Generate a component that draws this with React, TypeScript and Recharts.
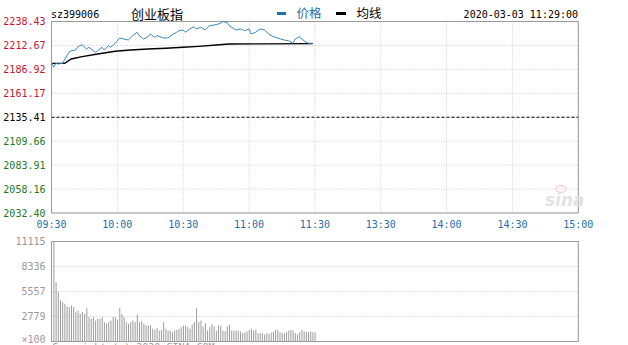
import { LineChart, Line, BarChart, Bar, XAxis, YAxis, CartesianGrid, ReferenceLine } from 'recharts';

const TIME_TICKS = [0, 30, 60, 90, 120, 150, 180, 210, 240];
const TIME_LABELS = ['09:30', '10:00', '10:30', '11:00', '11:30', '13:30', '14:00', '14:30', '15:00'];
const PRICE_TICKS = [2032.40, 2058.16, 2083.91, 2109.66, 2135.41, 2161.17, 2186.92, 2212.67, 2238.43];
const PCT_TICKS = [-4.82, -3.62, -2.41, -1.21, 0, 1.21, 2.41, 3.62, 4.82];
const PREV_CLOSE = 2135.41;
const VOL_TICKS = [0, 2779, 5557, 8336, 11115];

// minutes after 09:30
const priceMinutes = [0, 1, 2, 3, 5, 7, 8, 9, 11, 12, 14, 15, 16, 17, 20, 21, 23, 24, 26, 27, 29, 31, 33, 35, 37, 39, 40, 42, 44, 45, 47, 48, 51, 53, 55, 57, 58, 60, 61, 63, 65, 66, 68, 70, 72, 75, 77, 78, 80, 81, 84, 86, 88, 90, 91, 93, 95, 97, 99, 101, 103, 106, 108, 110, 111, 113, 114, 116, 117, 119];
const priceValues = [2194.5, 2189.2, 2193.4, 2192.7, 2193.4, 2201.6, 2205.3, 2207.0, 2207.8, 2211.3, 2213.5, 2210.7, 2208.8, 2210.7, 2205.3, 2207.0, 2210.7, 2207.8, 2212.4, 2210.7, 2215.0, 2220.7, 2219.6, 2218.5, 2223.2, 2226.8, 2223.2, 2219.6, 2222.1, 2225.0, 2221.4, 2223.2, 2220.7, 2220.7, 2224.2, 2226.8, 2228.5, 2229.3, 2226.8, 2230.4, 2232.8, 2230.4, 2232.2, 2229.3, 2233.9, 2235.0, 2236.5, 2238.2, 2237.5, 2233.9, 2229.3, 2230.4, 2228.5, 2230.4, 2225.0, 2226.8, 2230.4, 2229.3, 2225.0, 2222.1, 2220.7, 2218.5, 2217.8, 2215.0, 2219.6, 2222.1, 2219.6, 2216.1, 2215.0, 2215.0];
const avgMinutes = [0, 6, 9, 14, 21, 29, 36, 44, 52, 60, 67, 75, 81, 95, 119];
const avgValues = [2193.4, 2193.4, 2198.1, 2200.6, 2203.4, 2206.4, 2207.8, 2208.8, 2209.6, 2210.7, 2211.7, 2213.1, 2214.2, 2214.4, 2214.6];

// volume per minute, x100
const volumes = [
  11100, 6590, 5480, 4560, 4370, 4190, 3890, 3820, 4000, 3820,
  3260, 3450, 3080, 3260, 3080, 3700, 2700, 2520, 2700, 2330,
  2520, 2520, 2700, 2150, 2040, 2150, 2330, 2700, 2700, 2440,
  3740, 3080, 2700, 2150, 1960, 2150, 2330, 2150, 3000, 2150,
  2260, 1960, 1780, 1780, 1780, 1410, 1300, 1520, 1220, 1300,
  2150, 1410, 1220, 1220, 1040, 1220, 1300, 1410, 1590, 1780,
  1780, 1590, 1410, 1890, 2150, 3700, 2150, 2330, 1670, 2040,
  1220, 1590, 1890, 1670, 1220, 1780, 1780, 1220, 1150, 1670,
  1850, 1220, 1220, 1220, 1220, 1110, 930, 1000, 1110, 1300,
  1410, 1220, 1300, 930, 930, 930, 780, 930, 850, 1000,
  1040, 1300, 1300, 1040, 930, 930, 1040, 1220, 1300, 1220,
  930, 780, 1040, 1300, 1110, 1110, 1040, 1110, 1040, 1000,
];

const priceData = priceMinutes.map((t, i) => ({ t, price: priceValues[i] }));
const avgData = avgMinutes.map((t, i) => ({ t, avg: avgValues[i] }));
const volData = volumes.map((v, i) => ({ t: i, vol: v }));

const RED = '#c8142c';
const GREEN = '#267a26';
const BLUE = '#1d70ac';
const BORDER = '#9a9a9a';
const GRID = '#c4c4c4';
const MONO = '"DejaVu Sans Mono", monospace';
const CJK = '"Noto Sans CJK SC", sans-serif';

const signColor = (d: number) => (d > 0 ? RED : d < 0 ? GREEN : '#000');

const PriceTick = (p: any) => {
  const v = p.payload.value;
  return (
    <text x={p.x} y={p.y} dy="0.35em" textAnchor="end" fontSize={10} fontFamily={MONO} fill={signColor(v - PREV_CLOSE)}>
      {v.toFixed(2)}
    </text>
  );
};

const PctTick = (p: any) => {
  const v = p.payload.value;
  const s = v > 0 ? `+${v.toFixed(2)}%` : `${v.toFixed(2)}%`;
  return (
    <text x={p.x + 41} y={p.y} dy="0.35em" textAnchor="end" fontSize={10} fontFamily={MONO} fill={signColor(v)}>
      {s}
    </text>
  );
};

const TimeTick = (p: any) => (
  <text x={p.x} y={p.y} dy="0.71em" textAnchor="middle" fontSize={10} fontFamily={MONO} fill={BLUE}>
    {TIME_LABELS[TIME_TICKS.indexOf(p.payload.value)]}
  </text>
);

const VolTick = (p: any) => {
  const v = p.payload.value;
  return (
    <text x={p.x} y={p.y} dy={v === 0 ? '0.1em' : '0.35em'} textAnchor="end" fontSize={10} fontFamily={MONO} fill="#999">
      {v === 0 ? '×100' : v}
    </text>
  );
};

const VolBar = (p: any) =>
  p.height > 0 ? <rect x={p.x + 2} y={p.y} width={1} height={p.height} fill="#9c9c9c" /> : <g />;

export default function App() {
  return (
    <div style={{ position: 'absolute', left: 0, top: 0, width: 628, height: 345, overflow: 'hidden', background: '#fff' }}>
      <div style={{ position: 'absolute', left: 0, top: 0 }}>
        <LineChart width={628} height={235} margin={{ top: 21.5, right: 0, bottom: 0, left: 0 }}>
          <CartesianGrid stroke={GRID} strokeDasharray="1 2" />
          <XAxis
            dataKey="t"
            type="number"
            domain={[0, 240]}
            ticks={TIME_TICKS}
            height={22}
            tickSize={0}
            tickMargin={8}
            tick={<TimeTick />}
            axisLine={{ stroke: BORDER }}
            tickLine={false}
          />
          <YAxis
            domain={[PRICE_TICKS[0], PRICE_TICKS[8]]}
            ticks={PRICE_TICKS}
            width={51.5}
            tickSize={0}
            tickMargin={6}
            tick={<PriceTick />}
            axisLine={{ stroke: BORDER }}
            tickLine={false}
            interval={0}
          />
          <YAxis
            yAxisId="pct"
            orientation="right"
            domain={[-4.82, 4.82]}
            ticks={PCT_TICKS}
            width={49.7}
            tickSize={0}
            tickMargin={0}
            tick={<PctTick />}
            axisLine={{ stroke: BORDER }}
            tickLine={false}
            interval={0}
          />
          <ReferenceLine y={PREV_CLOSE} stroke="#000" strokeDasharray="3 2" />
          <ReferenceLine y={PRICE_TICKS[8]} stroke={BORDER} />
          <Line data={avgData} dataKey="avg" stroke="#000" strokeWidth={1.4} dot={false} isAnimationActive={false} />
          <Line data={priceData} dataKey="price" stroke="#3a87b8" strokeWidth={1} dot={false} isAnimationActive={false} />
        </LineChart>
      </div>

      <div style={{ position: 'absolute', left: 0, top: 230 }}>
        <BarChart width={628} height={115} data={volData} margin={{ top: 11.5, right: 49.7, bottom: 0, left: 0 }}>
          <CartesianGrid stroke={GRID} strokeDasharray="1 2" />
          <XAxis
            dataKey="t"
            type="number"
            domain={[0, 240]}
            ticks={TIME_TICKS}
            height={3.5}
            tick={false}
            tickLine={false}
            axisLine={{ stroke: BORDER }}
          />
          <YAxis
            domain={[0, 11115]}
            ticks={VOL_TICKS}
            width={51.5}
            tickSize={0}
            tickMargin={6}
            tick={<VolTick />}
            axisLine={{ stroke: BORDER }}
            tickLine={false}
            interval={0}
          />
          <ReferenceLine y={11115} stroke={BORDER} />
          <ReferenceLine x={240} stroke={BORDER} />
          <Bar dataKey="vol" barSize={1} shape={<VolBar />} isAnimationActive={false} />
        </BarChart>
      </div>

      <svg width={628} height={345} style={{ position: 'absolute', left: 0, top: 0, pointerEvents: 'none' }}>
        <text x={51} y={18} fontSize={10} fontFamily={MONO} fill="#000">sz399006</text>
        <text x={131} y={19} fontSize={13} fontFamily={CJK} fill="#000">创业板指</text>
        <rect x={277} y={12} width={9} height={3} fill={BLUE} />
        <text x={296.5} y={18} fontSize={12.5} fontFamily={CJK} fill={BLUE}>价格</text>
        <rect x={336} y={12} width={10} height={3} fill="#000" />
        <text x={356.5} y={18} fontSize={12.5} fontFamily={CJK} fill="#000">均线</text>
        <text x={578} y={17.5} textAnchor="end" fontSize={10} fontFamily={MONO} fill="#000">2020-03-03 11:29:00</text>
        <ellipse cx={561} cy={189} rx={5} ry={3.5} fill="none" stroke="#f0d4d4" strokeWidth={1.5} />
        <text x={545} y={206} fontSize={17} fontStyle="italic" fontWeight="bold" fontFamily="DejaVu Sans" fill="#e2e2e2">sina</text>
        <text x={52} y={351} fontSize={10} fontFamily={MONO} fill="#999">Copyright (c) 2020 SINA.COM</text>
      </svg>
    </div>
  );
}
